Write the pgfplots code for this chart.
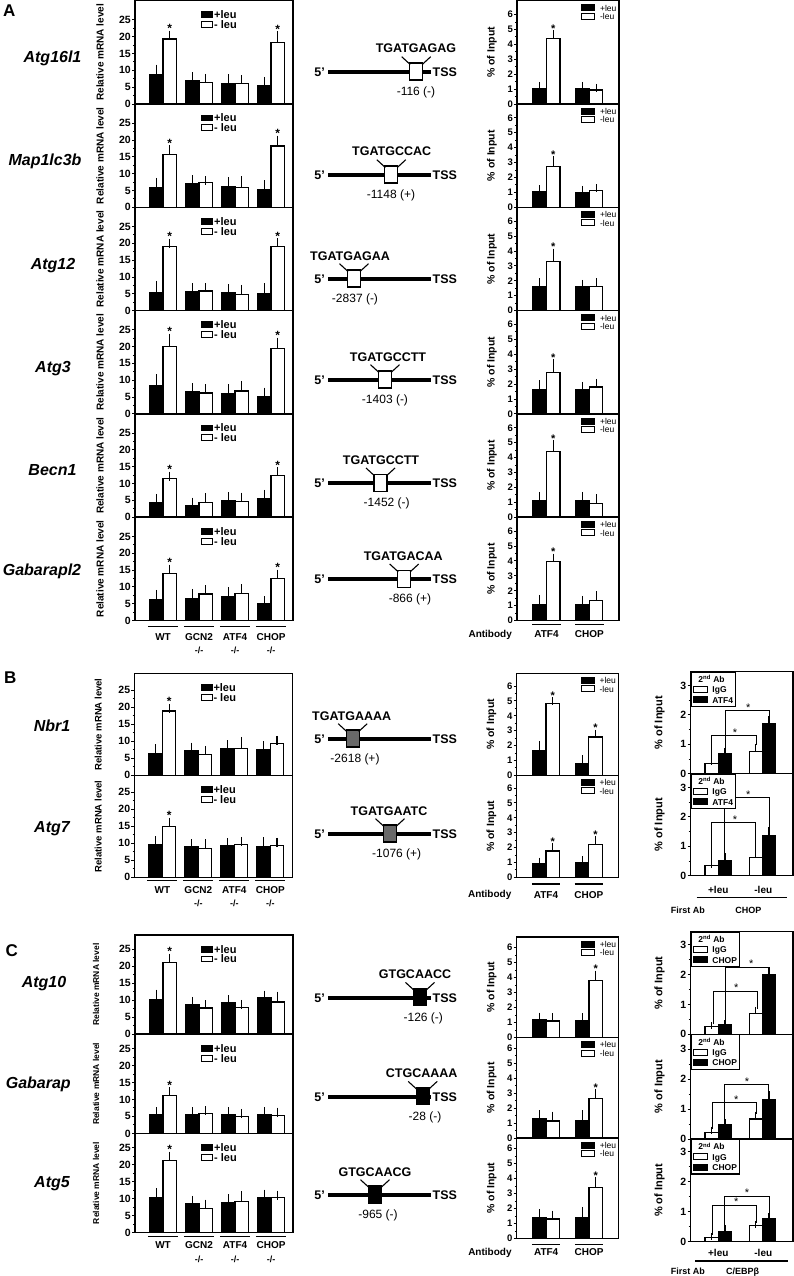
\documentclass[border=0pt]{standalone}
\usepackage{fontspec}
\setmainfont{Liberation Sans}
\usepackage{pgfplots}
\pgfplotsset{compat=1.18}
\newcommand\fs[1]{\fontsize{#1}{#1}\selectfont}
\definecolor{boxgray}{RGB}{105,105,105}

\pgfplotsset{
 errb/.style={/pgfplots/error bars/y dir=plus, /pgfplots/error bars/y explicit,
   /pgfplots/error bars/error mark=-,
   /pgfplots/error bars/error bar style={line width=1.2pt, black, solid},
   /pgfplots/error bars/error mark options={line width=1.2pt, mark size=#1, black, solid}},
 base/.style={scale only axis, anchor=north west, clip=false, ymin=0,
   axis line style={line width=1.5pt}, xtick=\empty, ytick pos=left, tick align=outside,
   major tick length=3pt, minor tick length=1.8pt,
   every tick/.append style={black, line width=0.9pt},
   yticklabel style={font=\bfseries\fs{10.5}, inner sep=1pt},
   /pgf/number format/assume math mode=true},
 mrna/.style={base, width=158pt, xmin=-0.78, xmax=3.61, ytick={0,5,...,25}, minor y tick num=1,
   legend style={draw=none, fill=none, inner sep=0pt, at={(0,1)}, anchor=north west,
     xshift=66pt, yshift=-10pt, font=\bfseries\fs{11}, row sep=2pt,
     nodes={inner sep=0pt, text height=7.8pt, text depth=0pt},
     /tikz/every odd column/.append style={column sep=1pt}},
   legend cell align=left},
 mbk/.style={ybar, bar width=0.375, bar shift=0, fill=black, draw=black, line width=1.2pt, errb=4.5pt,
   legend image code/.code={\draw[fill=black, draw=black, line width=1pt] (0pt,-2.9pt) rectangle (11pt,2.9pt);}},
 mwt/.style={ybar, bar width=0.375, bar shift=0, fill=white, draw=black, line width=1.2pt, errb=4.5pt,
   legend image code/.code={\draw[fill=white, draw=black, line width=1pt] (0pt,-2.9pt) rectangle (11pt,2.9pt);}},
 chip/.style={base, width=102pt, xmin=-0.686, xmax=1.69, ytick={0,...,6}, minor y tick num=1,
   yticklabel style={font=\bfseries\fs{9.5}},
   legend style={draw=none, fill=none, inner sep=0pt, at={(0,1)}, anchor=north west,
     xshift=64pt, yshift=-3.5pt, font=\fs{8.5}, row sep=1.5pt,
     nodes={inner sep=0pt, text height=6.5pt, text depth=0pt},
     /tikz/every odd column/.append style={column sep=5pt}},
   legend cell align=left},
 cbk/.style={ybar, bar width=0.314, bar shift=0, fill=black, draw=black, line width=1.2pt, errb=3.8pt,
   legend image code/.code={\draw[fill=black, draw=black, line width=0.9pt] (0pt,-3pt) rectangle (13pt,3pt);}},
 cwt/.style={ybar, bar width=0.314, bar shift=0, fill=white, draw=black, line width=1.2pt, errb=3.8pt,
   legend image code/.code={\draw[fill=white, draw=black, line width=0.9pt] (0pt,-3pt) rectangle (13pt,3pt);}},
 rechip/.style={base, width=102.5pt, xmin=-0.63, xmax=1.694, ytick={0,1,2,3}, minor y tick num=1,
   legend style={draw=black, line width=1.1pt, fill=white, at={(0,1)}, anchor=north west,
     inner xsep=2pt, inner ysep=3pt, font=\bfseries\fs{8.5}, row sep=2.5pt,
     nodes={inner sep=0.5pt, text height=6.8pt, text depth=0pt},
     /tikz/every odd column/.append style={column sep=4pt}},
   legend cell align=left},
 rwt/.style={ybar, bar width=0.30, bar shift=0, fill=white, draw=black, line width=1.2pt, errb=3.5pt,
   legend image code/.code={\draw[fill=white, draw=black, line width=0.9pt] (0pt,-2.9pt) rectangle (14pt,2.9pt);}},
 rbk/.style={ybar, bar width=0.30, bar shift=0, fill=black, draw=black, line width=1.2pt, errb=3.5pt,
   legend image code/.code={\draw[fill=black, draw=black, line width=0.9pt] (0pt,-2.9pt) rectangle (14pt,2.9pt);}},
}

\tikzset{glab/.style={font=\bfseries\fs{10}, inner sep=0pt},
         dlab/.style={font=\bfseries\fs{9}, inner sep=0pt}}

\newcommand{\mylab}[2]{\node[rotate=90, font=\bfseries\fs{#2}, inner sep=0pt] at ([xshift=-#1pt]rel axis cs:0,0.5) {Relative mRNA level};}
\newcommand{\starM}[2]{\node[font=\bfseries\fs{12}, inner sep=0pt] at ([yshift=6.5pt]axis cs:#1,#2) {*};}
\newcommand{\starC}[2]{\node[font=\bfseries\fs{11}, inner sep=0pt] at ([yshift=5.5pt]axis cs:#1,#2) {*};}

\newcommand{\mrnapanel}[7]{%
\begin{axis}[mrna, at={(#1pt,-#2pt)}, height=#3pt, ymax=#4]
\addplot[mbk] coordinates {#5}; \addlegendentry{+leu}
\addplot[mwt] coordinates {#6}; \addlegendentry{- leu}
#7
\end{axis}}

\newcommand{\chippanel}[7]{%
\begin{axis}[chip, at={(#1pt,-#2pt)}, height=#3pt, ymax=#4]
\addplot[cbk] coordinates {#5}; \addlegendentry{+leu}
\addplot[cwt] coordinates {#6}; \addlegendentry{-leu}
\node[rotate=90, font=\bfseries\fs{10.5}, inner sep=0pt] at ([xshift=-25pt]rel axis cs:0,0.5) {\% of Input};
#7
\end{axis}}

\newcommand{\rechippanel}[8]{%
\begin{axis}[rechip, at={(#1pt,-#2pt)}, height=#3pt, ymax=#4]
\addlegendimage{empty legend}\addlegendentry{\hspace*{-14pt}2\textsuperscript{nd} Ab}
\addplot[rwt] coordinates {#5}; \addlegendentry{IgG}
\addplot[rbk] coordinates {#6}; \addlegendentry{#7}
\node[rotate=90, font=\bfseries\fs{11}, inner sep=0pt] at ([xshift=-31pt]rel axis cs:0,0.5) {\% of Input};
#8
\end{axis}}

\newcommand{\brk}[6]{%
\draw[line width=1pt] (axis cs:#1,#2) -- (axis cs:#1,#5) -- (axis cs:#3,#5) -- (axis cs:#3,#4);
\node[font=\fs{11}, inner sep=0pt] at ([yshift=3pt]axis cs:#6,#5) {*};}

\newcommand{\mlabels}[3]{%
\draw[line width=1.3pt] ([yshift=-#1pt]axis cs:-0.42,0) -- ([yshift=-#1pt]axis cs:0.42,0);
\draw[line width=1.3pt] ([yshift=-#1pt]axis cs:0.58,0) -- ([yshift=-#1pt]axis cs:1.42,0);
\draw[line width=1.3pt] ([yshift=-#1pt]axis cs:1.58,0) -- ([yshift=-#1pt]axis cs:2.42,0);
\draw[line width=1.3pt] ([yshift=-#1pt]axis cs:2.58,0) -- ([yshift=-#1pt]axis cs:3.42,0);
\node[glab] at ([yshift=-#2pt]axis cs:0,0) {WT};
\node[glab] at ([yshift=-#2pt]axis cs:1,0) {GCN2};
\node[glab] at ([yshift=-#2pt]axis cs:2,0) {ATF4};
\node[glab] at ([yshift=-#2pt]axis cs:3,0) {CHOP};
\node[dlab] at ([yshift=-#3pt]axis cs:1,0) {-/-};
\node[dlab] at ([yshift=-#3pt]axis cs:2,0) {-/-};
\node[dlab] at ([yshift=-#3pt]axis cs:3,0) {-/-};}

\newcommand{\clabels}[2]{%
\draw[line width=1.3pt] ([yshift=-#1pt]axis cs:-0.33,0) -- ([yshift=-#1pt]axis cs:0.33,0);
\draw[line width=1.3pt] ([yshift=-#1pt]axis cs:0.67,0) -- ([yshift=-#1pt]axis cs:1.33,0);
\node[glab] at ([yshift=-#2pt]axis cs:0,0) {ATF4};
\node[glab] at ([yshift=-#2pt]axis cs:1,0) {CHOP};
\node[glab] at ([yshift=-#2pt]axis cs:-1.31,0) {Antibody};}

\newcommand{\rlabels}[7]{%
\node[glab] at ([yshift=-#1pt]axis cs:0,0) {+leu};
\node[glab] at ([yshift=-#1pt]axis cs:1.02,0) {-leu};
\draw[line width=1.3pt] ([yshift=-#2pt]axis cs:#3,0) -- ([yshift=-#2pt]axis cs:#4,0);
\node[font=\bfseries\fs{9}, inner sep=0pt] at ([yshift=-#5pt]axis cs:-0.69,0) {First Ab};
\node[font=\bfseries\fs{9}, inner sep=0pt] at ([yshift=-#5pt]axis cs:#7,0) {#6};}

% promoter schematic: line y, box centre x, fill, seq x, seq, label x, label
\newcommand{\prom}[7]{%
\draw[line width=4pt] (328pt,-#1pt) -- (431pt,-#1pt);
\node[anchor=base east, font=\bfseries\fs{12.5}, inner sep=0pt] at (325pt,-#1pt-4.5pt) {5'};
\node[anchor=base west, font=\bfseries\fs{12.5}, inner sep=0pt] at (432.5pt,-#1pt-4.5pt) {TSS};
\begin{scope}[shift={(#2pt,-#1pt)}]
\draw[line width=1.2pt, fill=#3] (-6.5pt,-8pt) rectangle (6.5pt,9pt);
\draw[line width=1.1pt] (-6pt,7.5pt) -- (-14.5pt,15.3pt);
\draw[line width=1.1pt] (6pt,7.5pt) -- (14.5pt,15.3pt);
\end{scope}
\node[anchor=base, font=\bfseries\fs{12.5}, inner sep=0pt] at (#4pt,-#1pt+19pt) {#5};
\node[anchor=base, font=\fs{12}, inner sep=0pt] at (#6pt,-#1pt-23.3pt) {#7};}

\newcommand{\gene}[3]{\node[anchor=base, font=\bfseries\itshape\fs{16}, inner sep=0pt] at (#1pt,-#2pt) {#3};}

\begin{document}
\begin{tikzpicture}
\useasboundingbox (0pt,0pt) rectangle (794pt,-1276pt);

% section letters
\node[anchor=base west, font=\bfseries\fs{17}, inner sep=0pt] at (3pt,-17pt) {A};
\node[anchor=base west, font=\bfseries\fs{17}, inner sep=0pt] at (4pt,-683.5pt) {B};
\node[anchor=base west, font=\bfseries\fs{17}, inner sep=0pt] at (5.5pt,-956pt) {C};

% gene names
\gene{52.5}{63}{Atg16l1}
\gene{45}{165.7}{Map1lc3b}
\gene{53}{269}{Atg12}
\gene{53}{372}{Atg3}
\gene{52.5}{475}{Becn1}
\gene{42}{575.7}{Gabarapl2}
\gene{52}{731.7}{Nbr1}
\gene{52}{832}{Atg7}
\gene{44}{987.3}{Atg10}
\gene{38.3}{1088.3}{Gabarap}
\gene{52}{1187.3}{Atg5}

% promoter schematics
\prom{72}{416.2}{white}{416}{TGATGAGAG}{416}{-116 (-)}
\prom{175}{391.3}{white}{391.7}{TGATGCCAC}{391}{-1148 (+)}
\prom{279}{354}{white}{350}{TGATGAGAA}{355}{-2837 (-)}
\prom{380}{385}{white}{388}{TGATGCCTT}{385}{-1403 (-)}
\prom{483.3}{380.5}{white}{381}{TGATGCCTT}{386.7}{-1452 (-)}
\prom{579.3}{404.2}{white}{403.3}{TGATGACAA}{410}{-866 (+)}
\prom{739}{352.7}{boxgray}{351.7}{TGATGAAAA}{355}{-2618 (+)}
\prom{834}{390}{boxgray}{389}{TGATGAATC}{396.7}{-1076 (+)}
\prom{997.7}{420}{black}{415}{GTGCAACC}{423.3}{-126 (-)}
\prom{1096.7}{422.7}{black}{421.7}{CTGCAAAA}{425}{-28 (-)}
\prom{1195}{375}{black}{375}{GTGCAACG}{378}{-965 (-)}

%%%%%%%%%%%%%%%% A : mRNA  (black = +leu at group-0.1875, white = -leu at group+0.1875)
\mrnapanel{135}{0.7}{103.3}{30.7}
{(-0.1875,8.7) +- (0,1.7) (0.8125,6.9) +- (0,1.2) (1.8125,6.1) +- (0,1.4) (2.8125,5.4) +- (0,1.3)}
{(0.1875,19.3) +- (0,1.2) (1.1875,6.4) +- (0,1.2) (2.1875,6.0) +- (0,1.2) (3.1875,18.3) +- (0,2.0)}
{\mylab{35}{10}\starM{0.1875}{20.5}\starM{3.1875}{20.3}}
\mrnapanel{135}{104.0}{103.3}{30.7}
{(-0.1875,6.0) +- (0,1.4) (0.8125,7.0) +- (0,1.2) (1.8125,6.2) +- (0,1.4) (2.8125,5.3) +- (0,1.4)}
{(0.1875,15.7) +- (0,1.4) (1.1875,7.3) +- (0,0.6) (2.1875,6.0) +- (0,1.9) (3.1875,18.2) +- (0,1.8)}
{\mylab{35}{10}\starM{0.1875}{17.1}\starM{3.1875}{20.0}}
\mrnapanel{135}{207.3}{103.3}{30.7}
{(-0.1875,5.3) +- (0,2.2) (0.8125,5.5) +- (0,1.3) (1.8125,5.3) +- (0,1.2) (2.8125,5.2) +- (0,1.6)}
{(0.1875,19.0) +- (0,1.0) (1.1875,5.8) +- (0,1.0) (2.1875,4.8) +- (0,1.5) (3.1875,19.0) +- (0,1.2)}
{\mylab{35}{10}\starM{0.1875}{20.0}\starM{3.1875}{20.2}}
\mrnapanel{135}{310.6}{103.3}{30.7}
{(-0.1875,8.5) +- (0,2.0) (0.8125,6.5) +- (0,1.3) (1.8125,6.0) +- (0,1.5) (2.8125,5.2) +- (0,1.3)}
{(0.1875,20.0) +- (0,2.5) (1.1875,6.2) +- (0,1.3) (2.1875,6.8) +- (0,1.7) (3.1875,19.5) +- (0,1.8)}
{\mylab{35}{10}\starM{0.1875}{22.5}\starM{3.1875}{21.3}}
\mrnapanel{135}{413.9}{103.3}{30.7}
{(-0.1875,4.2) +- (0,1.4) (0.8125,3.5) +- (0,1.0) (1.8125,4.8) +- (0,1.3) (2.8125,5.5) +- (0,1.3)}
{(0.1875,11.5) +- (0,0.7) (1.1875,4.3) +- (0,1.5) (2.1875,4.6) +- (0,1.4) (3.1875,12.4) +- (0,1.2)}
{\mylab{35}{10}\starM{0.1875}{12.2}\starM{3.1875}{13.6}}
\mrnapanel{135}{517.2}{103.3}{30.7}
{(-0.1875,6.3) +- (0,1.5) (0.8125,6.6) +- (0,1.5) (1.8125,7.1) +- (0,1.5) (2.8125,5.1) +- (0,0.7)}
{(0.1875,14.0) +- (0,1.3) (1.1875,7.9) +- (0,1.2) (2.1875,8.1) +- (0,1.3) (3.1875,12.4) +- (0,1.4)}
{\mylab{35}{10}\starM{0.1875}{15.3}\starM{3.1875}{13.8}\mlabels{6}{17}{30}}

%%%%%%%%%%%%%%%% A : ChIP (black +leu at -0.157, white -leu at +0.157)
\chippanel{517}{0.7}{103.3}{6.93}
{(-0.157,1.05) +- (0,0.18) (0.843,1.05) +- (0,0.18)}
{(0.157,4.4) +- (0,0.3) (1.157,0.94) +- (0,0.15)}
{\starC{0.157}{4.7}}
\chippanel{517}{104.0}{103.3}{6.93}
{(-0.157,1.05) +- (0,0.18) (0.843,1.0) +- (0,0.18)}
{(0.157,2.73) +- (0,0.45) (1.157,1.12) +- (0,0.18)}
{\starC{0.157}{3.18}}
\chippanel{517}{207.3}{103.3}{6.93}
{(-0.157,1.6) +- (0,0.3) (0.843,1.6) +- (0,0.2)}
{(0.157,3.3) +- (0,0.6) (1.157,1.6) +- (0,0.3)}
{\starC{0.157}{3.9}}
\chippanel{517}{310.6}{103.3}{6.93}
{(-0.157,1.6) +- (0,0.4) (0.843,1.6) +- (0,0.3)}
{(0.157,2.8) +- (0,0.6) (1.157,1.8) +- (0,0.3)}
{\starC{0.157}{3.4}}
\chippanel{517}{413.9}{103.3}{6.93}
{(-0.157,1.12) +- (0,0.33) (0.843,1.12) +- (0,0.33)}
{(0.157,4.4) +- (0,0.5) (1.157,0.9) +- (0,0.37)}
{\starC{0.157}{4.9}}
\chippanel{517}{517.2}{103.3}{6.93}
{(-0.157,1.07) +- (0,0.39) (0.843,1.07) +- (0,0.33)}
{(0.157,3.98) +- (0,0.25) (1.157,1.34) +- (0,0.38)}
{\starC{0.157}{4.23}\clabels{4}{14}}

%%%%%%%%%%%%%%%% B : mRNA
\mrnapanel{134.3}{673.3}{102}{30}
{(-0.1875,6.5) +- (0,1.3) (0.8125,7.3) +- (0,1.0) (1.8125,7.8) +- (0,1.2) (2.8125,7.6) +- (0,1.1)}
{(0.1875,18.9) +- (0,0.8) (1.1875,6.2) +- (0,1.1) (2.1875,8.0) +- (0,2.0) (3.1875,9.3) +- (0,1.0)}
{\mylab{36}{9.5}\starM{0.1875}{19.7}}
\mrnapanel{134.3}{775.3}{102}{30}
{(-0.1875,9.7) +- (0,1.0) (0.8125,8.9) +- (0,0.9) (1.8125,9.2) +- (0,0.9) (2.8125,9.1) +- (0,1.4)}
{(0.1875,15.0) +- (0,1.2) (1.1875,8.4) +- (0,1.5) (2.1875,9.6) +- (0,1.0) (3.1875,9.4) +- (0,0.9)}
{\mylab{36}{9.5}\starM{0.1875}{16.2}\mlabels{3}{13}{26}}

%%%%%%%%%%%%%%%% B : ChIP
\chippanel{516.5}{673.3}{102}{6.85}
{(-0.157,1.68) +- (0,0.38) (0.843,0.8) +- (0,0.3)}
{(0.157,4.8) +- (0,0.18) (1.157,2.57) +- (0,0.23)}
{\starC{0.157}{4.98}\starC{1.157}{2.8}}
\chippanel{516.5}{775.3}{102}{6.85}
{(-0.157,0.92) +- (0,0.15) (0.843,1.0) +- (0,0.15)}
{(0.157,1.77) +- (0,0.28) (1.157,2.2) +- (0,0.3)}
{\starC{0.157}{2.05}\starC{1.157}{2.5}\clabels{6.7}{17.7}}

%%%%%%%%%%%%%%%% B : re-ChIP (white IgG at -0.15, black ATF4 at +0.15)
\rechippanel{690.5}{671.7}{102}{3.47}
{(-0.15,0.35) +- (0,0.05) (0.85,0.75) +- (0,0.15)}
{(0.15,0.67) +- (0,0.1) (1.15,1.71) +- (0,0.15)}
{ATF4}
{\brk{-0.15}{0.47}{0.87}{0.96}{1.29}{0.38}\brk{0.17}{0.83}{1.16}{1.92}{2.14}{0.68}}
\rechippanel{690.5}{773.7}{102}{3.47}
{(-0.15,0.34) +- (0,0.04) (0.85,0.62) +- (0,0.12)}
{(0.15,0.53) +- (0,0.12) (1.15,1.35) +- (0,0.2)}
{ATF4}
{\brk{-0.15}{0.45}{0.85}{0.8}{1.8}{0.38}\brk{0.15}{0.72}{1.15}{1.62}{2.65}{0.68}
 \rlabels{14.3}{21.7}{-0.49}{1.55}{35}{CHOP}{0.68}}

%%%%%%%%%%%%%%%% C : mRNA
\mrnapanel{135}{935}{99.2}{29.2}
{(-0.1875,10.2) +- (0,1.6) (0.8125,8.7) +- (0,1.0) (1.8125,9.3) +- (0,0.9) (2.8125,10.7) +- (0,0.8)}
{(0.1875,21.1) +- (0,1.3) (1.1875,7.7) +- (0,1.0) (2.1875,7.8) +- (0,1.0) (3.1875,9.5) +- (0,1.7)}
{\mylab{39}{8.5}\starM{0.1875}{22.4}}
\mrnapanel{135}{1034.2}{99.2}{29.2}
{(-0.1875,5.6) +- (0,0.8) (0.8125,5.6) +- (0,0.8) (1.8125,5.6) +- (0,0.8) (2.8125,5.6) +- (0,0.8)}
{(0.1875,11.1) +- (0,1.2) (1.1875,5.8) +- (0,0.8) (2.1875,4.9) +- (0,1.0) (3.1875,5.3) +- (0,1.0)}
{\mylab{39}{8.5}\starM{0.1875}{12.3}}
\mrnapanel{135}{1133.4}{99.2}{29.2}
{(-0.1875,10.2) +- (0,1.5) (0.8125,8.5) +- (0,1.0) (1.8125,8.9) +- (0,1.0) (2.8125,10.4) +- (0,0.9)}
{(0.1875,21.2) +- (0,1.3) (1.1875,7.2) +- (0,1.2) (2.1875,9.2) +- (0,1.7) (3.1875,10.3) +- (0,0.7)}
{\mylab{39}{8.5}\starM{0.1875}{22.5}\mlabels{4}{12.5}{26.5}}

%%%%%%%%%%%%%%%% C : ChIP
\chippanel{516.7}{937}{100.5}{6.7}
{(-0.157,1.17) +- (0,0.24) (0.843,1.1) +- (0,0.25)}
{(0.157,1.1) +- (0,0.25) (1.157,3.8) +- (0,0.4)}
{\starC{1.157}{4.2}}
\chippanel{516.7}{1037.5}{100.5}{6.7}
{(-0.157,1.3) +- (0,0.3) (0.843,1.19) +- (0,0.4)}
{(0.157,1.14) +- (0,0.36) (1.157,2.66) +- (0,0.33)}
{\starC{1.157}{2.99}}
\chippanel{516.7}{1138}{100.5}{6.7}
{(-0.157,1.4) +- (0,0.3) (0.843,1.4) +- (0,0.45)}
{(0.157,1.3) +- (0,0.3) (1.157,3.4) +- (0,0.45)}
{\starC{1.157}{3.85}\clabels{6}{14}}

%%%%%%%%%%%%%%%% C : re-ChIP
\rechippanel{690.5}{931.7}{102.6}{3.44}
{(-0.15,0.25) +- (0,0.03) (0.85,0.7) +- (0,0.1)}
{(0.15,0.32) +- (0,0.03) (1.15,2.0) +- (0,0.12)}
{CHOP}
{\brk{-0.12}{0.33}{0.88}{0.85}{1.45}{0.41}\brk{0.17}{0.40}{1.16}{2.15}{2.25}{0.75}}
\rechippanel{690.5}{1034.3}{104.7}{3.49}
{(-0.15,0.21) +- (0,0.09) (0.85,0.67) +- (0,0.13)}
{(0.15,0.47) +- (0,0.07) (1.15,1.32) +- (0,0.15)}
{CHOP}
{\brk{-0.14}{0.35}{0.86}{0.85}{1.21}{0.41}\brk{0.15}{0.58}{1.13}{1.52}{1.82}{0.65}}
\rechippanel{690.5}{1139}{102.7}{3.42}
{(-0.15,0.15) +- (0,0.03) (0.85,0.53) +- (0,0.05)}
{(0.15,0.33) +- (0,0.1) (1.15,0.76) +- (0,0.08)}
{CHOP}
{\brk{-0.14}{0.23}{0.86}{0.63}{1.22}{0.41}\brk{0.15}{0.48}{1.15}{0.9}{1.52}{0.65}
 \rlabels{11}{19.3}{-0.525}{1.58}{30}{C/EBPβ}{0.55}}

\end{tikzpicture}
\end{document}
